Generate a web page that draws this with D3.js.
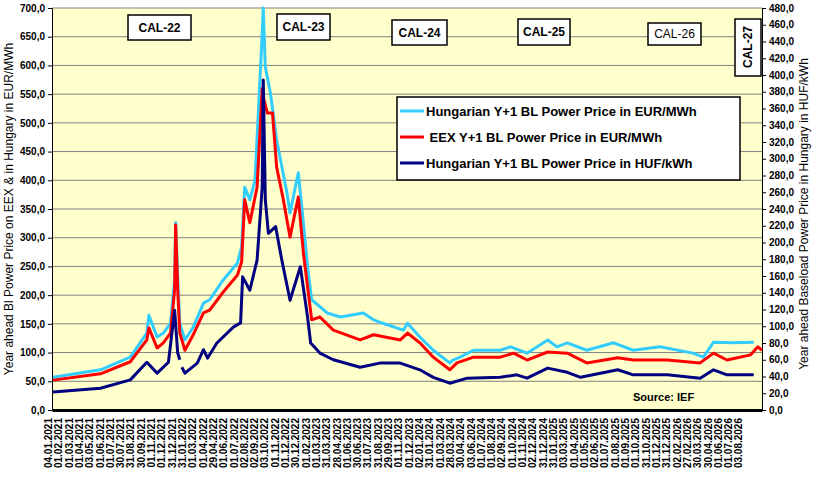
<!DOCTYPE html>
<html>
<head>
<meta charset="utf-8">
<script src="https://cdn.jsdelivr.net/npm/d3@7"></script>
<style>
  body { margin: 0; background: #fff; }
  text { font-family: Arial, "Liberation Sans", sans-serif; }
</style>
</head>
<body>
<svg></svg>
<script>
// x tick labels (one every ~21 trading days)
const dateLabels = ["04.01.2021","01.02.2021","01.03.2021","01.04.2021","03.05.2021","01.06.2021","01.07.2021","30.07.2021","31.08.2021","30.09.2021","01.11.2021","01.12.2021","31.12.2021",
  "31.01.2022","01.03.2022","01.04.2022","29.04.2022","01.06.2022","01.07.2022","02.08.2022","02.09.2022","03.10.2022","01.11.2022","01.12.2022","30.12.2022",
  "01.02.2023","01.03.2023","31.03.2023","28.04.2023","01.06.2023","30.06.2023","31.07.2023","31.08.2023","29.09.2023","01.11.2023","01.12.2023",
  "02.01.2024","31.01.2024","01.03.2024","28.03.2024","30.04.2024","03.06.2024","01.07.2024","01.08.2024","02.09.2024","01.10.2024","01.11.2024","02.12.2024","31.12.2024",
  "31.01.2025","03.03.2025","01.04.2025","01.05.2025","02.06.2025","01.07.2025","01.08.2025","01.09.2025","01.10.2025","31.10.2025","01.12.2025","31.12.2025",
  "02.02.2026","27.02.2026","30.03.2026","30.04.2026","01.06.2026","01.07.2026","03.08.2026"];

// positions in label steps
const huEurT = [0,4.6,7.5,9.1,9.3,10.1,10.7,11.4,11.8,11.9,12.1,12.3,12.8,13.6,14.6,15.2,16.5,17.9,18.3,18.6,19.1,19.6,20.3,20.4,20.6,21.1,21.7,22.7,23.0,23.8,24.2,24.7,25.1,26.6,27.9,30.1,31.1,32.0,34.0,34.4,35.6,36.9,38.5,38.8,39.5,40.8,43.4,44.4,46.0,48.0,48.9,49.9,51.8,54.4,56.3,58.9,62.1,63.1,64.1,66.0,68.0];
const huEur = [57,70,92,134,165,127,134,151,226,326,232,151,122,144,186,192,226,256,284,388,366,400,656,700,597,552,470,378,343,413,343,249,192,169,162,169,157,151,139,151,127,104,82,87,92,104,104,110,99,122,110,117,104,117,104,110,99,92,118,117,118];

const eexT = [0,4.6,7.5,9.1,9.3,10.1,10.7,11.4,11.8,11.9,12.1,12.3,12.8,13.6,14.6,15.2,16.5,17.9,18.3,18.6,19.1,19.8,20.3,20.4,20.8,21.3,21.7,22.3,23.0,23.8,24.3,25.1,25.9,27.2,29.8,31.1,33.7,34.4,35.6,36.9,38.5,39.2,40.8,43.4,44.7,46.0,48.0,49.9,51.8,54.8,56.3,59.6,62.8,64.1,65.4,67.7,68.4,68.8];
const eex = [52,63,84,122,143,108,117,134,209,322,209,134,104,131,169,174,205,235,258,366,326,388,560,545,517,517,423,371,301,371,273,157,162,139,122,131,122,134,117,92,70,82,92,92,99,87,101,99,82,91,87,87,82,99,87,96,110,104];

const huHufT = [0,4.6,7.5,9.1,10.1,11.2,11.8,12.1,12.3,12.4,12.5,12.8,14.0,14.6,15.0,15.9,17.5,18.2,18.4,19.1,19.8,20.3,20.4,20.6,20.9,21.6,22.2,23.0,24.0,24.7,25.0,25.9,27.2,29.8,31.7,33.7,35.6,36.9,38.5,40.2,43.4,45.0,46.0,48.0,49.9,51.2,54.8,56.3,59.6,62.8,64.1,65.4,68.0];
const huHuf = [21.5,26,36,57,44,57,119,68,60,null,51,44,56,72,62,80,99,104,159,143,179,266,394,251,211,219,179,131,171,111,80,68,60,51,56,56,48,39,32,38,39,42,38,50,45,39,48,42,42,38,48,42,42];

const calLabels = ["CAL-22","CAL-23","CAL-24","CAL-25","CAL-26","CAL-27"];
const leftTicks = d3.range(0, 701, 50);
const rightTicks = d3.range(0, 481, 20);
const legendLabels = ["Hungarian Y+1 BL Power Price in EUR/MWh", " EEX Y+1 BL Power Price in EUR/MWh", "Hungarian Y+1 BL Power Price in HUF/kWh"];
const colors = ["#33ccff", "#ff0000", "#000080"];

const width = 815, height = 492;
const margin = { top: 8, right: 53, bottom: 82, left: 52 };
const svg = d3.select("svg").attr("width", width).attr("height", height);
const pw = width - margin.left - margin.right;
const ph = height - margin.top - margin.bottom;
const chart = svg.append("g").attr("transform", `translate(${margin.left},${margin.top})`);

const x = d3.scaleLinear().domain([-0.1, 68.8]).range([0, pw]);
const yL = d3.scaleLinear().domain([0, 700]).range([ph, 0]);
const yR = d3.scaleLinear().domain([0, 480]).range([ph, 0]);
const fmt = d => d.toFixed(1).replace(".", ",");

chart.append("rect").attr("width", pw).attr("height", ph).attr("fill", "#ffffcc");

// grid
chart.selectAll(".grid").data(leftTicks.slice(1)).enter().append("line")
  .attr("x1", 0).attr("x2", pw).attr("y1", d => yL(d)).attr("y2", d => yL(d))
  .attr("stroke", "#808080").attr("stroke-width", 1);

// axes
const la = chart.append("g").call(d3.axisLeft(yL).tickValues(leftTicks).tickFormat(fmt).tickSize(4));
const ra = chart.append("g").attr("transform", `translate(${pw},0)`)
  .call(d3.axisRight(yR).tickValues(rightTicks).tickFormat(fmt).tickSize(4));
[la, ra].forEach(a => {
  a.selectAll("text").style("font-size", "10px").style("font-weight", "bold").attr("fill", "#000");
  a.select(".domain").attr("stroke", "#000");
});

const xa = chart.append("g").attr("transform", `translate(0,${ph})`)
  .call(d3.axisBottom(x).tickValues(d3.range(dateLabels.length)).tickFormat(i => dateLabels[i]).tickSize(0));
xa.select(".domain").attr("stroke", "#000").attr("stroke-width", 3);
xa.selectAll("text")
  .style("font-size", "10px").style("font-weight", "bold").attr("fill", "#000")
  .attr("text-anchor", "end").attr("transform", "rotate(-90)")
  .attr("x", -8).attr("y", -5).attr("dy", "0.35em");

// lines
const mk = (ts, vs, ys) => d3.line()
  .defined((d, i) => vs[i] != null)
  .x((d, i) => x(ts[i])).y((d, i) => ys(vs[i]))(vs);
[[huEurT, huEur, yL, 0], [eexT, eex, yL, 1], [huHufT, huHuf, yR, 2]].forEach(([ts, vs, ys, c]) => {
  chart.append("path").attr("d", mk(ts, vs, ys)).attr("fill", "none")
    .attr("stroke", colors[c]).attr("stroke-width", 3).attr("stroke-linejoin", "round");
});

// CAL boxes
const calPos = [[76, 7, 63, 25, true], [225, 6, 53, 26, true], [340, 12, 55, 25, true], [466, 11, 52, 26, true], [596, 15, 53, 22, false]];
calPos.forEach((p, i) => {
  chart.append("rect").attr("x", p[0]).attr("y", p[1]).attr("width", p[2]).attr("height", p[3])
    .attr("fill", "#fff").attr("stroke", "#000").attr("stroke-width", 1.5);
  chart.append("text").attr("x", p[0] + p[2] / 2).attr("y", p[1] + p[3] / 2 + 4)
    .attr("text-anchor", "middle").style("font-size", "12px").style("font-weight", p[4] ? "bold" : "normal")
    .text(calLabels[i]);
});
chart.append("rect").attr("x", 683).attr("y", 11).attr("width", 26).attr("height", 57)
  .attr("fill", "#fff").attr("stroke", "#000").attr("stroke-width", 1.5);
chart.append("text").attr("transform", "translate(700,39) rotate(-90)").attr("text-anchor", "middle")
  .style("font-size", "12px").style("font-weight", "bold").text(calLabels[5]);

// legend
const lg = chart.append("g").attr("transform", "translate(345,89)");
lg.append("rect").attr("width", 343).attr("height", 83).attr("fill", "#fff").attr("stroke", "#000").attr("stroke-width", 1.5);
legendLabels.forEach((t, i) => {
  const yy = 14 + i * 26;
  lg.append("line").attr("x1", 3).attr("x2", 27).attr("y1", yy).attr("y2", yy).attr("stroke", colors[i]).attr("stroke-width", 3);
  lg.append("text").attr("x", 29).attr("y", yy + 5).style("font-size", "13px").style("font-weight", "bold").style("white-space", "pre").text(t);
});

chart.append("text").attr("x", 581).attr("y", 393).style("font-size", "11px").style("font-weight", "bold").text("Source: IEF");

// axis titles
svg.append("text").attr("transform", `translate(13,${margin.top + ph / 2}) rotate(-90)`).attr("text-anchor", "middle")
  .style("font-size", "12px").text("Year ahead Bl Power Price on EEX & in Hungary in EUR/MWh");
svg.append("text").attr("transform", `translate(808,${margin.top + ph / 2 + 5}) rotate(-90)`).attr("text-anchor", "middle")
  .style("font-size", "12px").text("Year ahead Baseload Power Price in Hungary in HUF/kWh");
</script>
</body>
</html>
